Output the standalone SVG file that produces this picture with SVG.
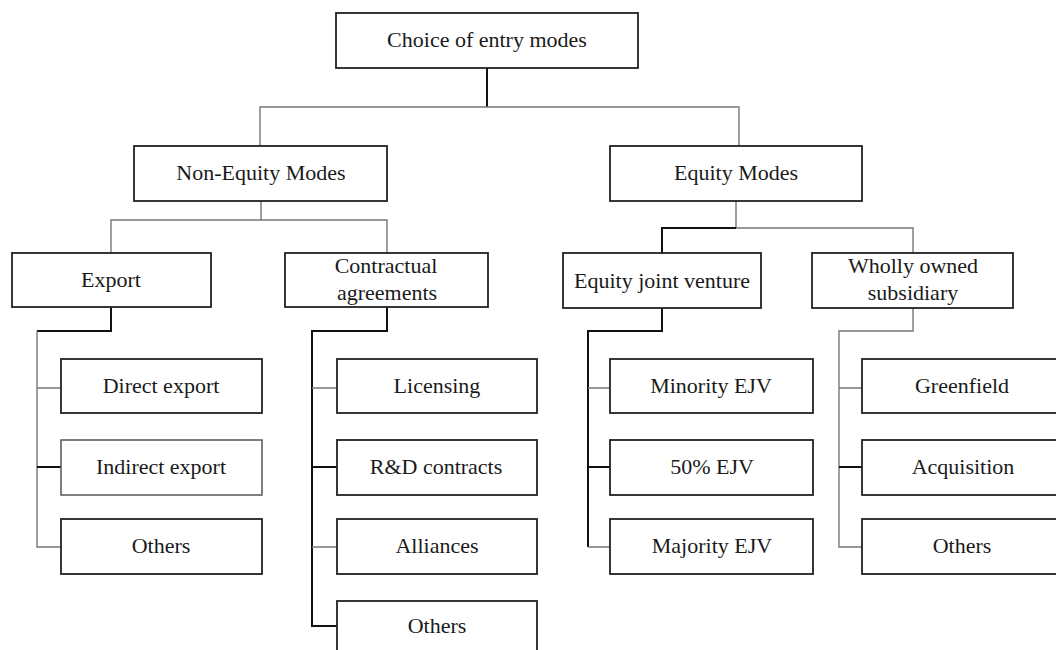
<svg xmlns="http://www.w3.org/2000/svg" width="1056" height="650" viewBox="0 0 1056 650">
<style>
.box{fill:#fff;stroke:#222;stroke-width:1.8}
.boxl{fill:#fff;stroke:#555;stroke-width:1.5}
.t{font-family:"Liberation Serif","Times New Roman",serif;font-size:22px;fill:#1a1a1a;text-anchor:middle}
.cb{fill:none;stroke:#111;stroke-width:2}
.cg{fill:none;stroke:#777;stroke-width:1.4}
</style>
<rect width="1056" height="650" fill="#fff"/>
<g id="connectors">
<path class="cb" d="M487,68 V107"/>
<path class="cg" d="M260,146 V107 H739 V146"/>
<path class="cg" d="M261,201 V220 M111,253 V220 H387 V253"/>
<path class="cg" d="M736,201 V228 H913 V253"/>
<path class="cb" d="M662,253 V228 H736"/>
<path class="cb" d="M111,307 V331 H37"/>
<path class="cg" d="M37,331 V547 H61 M37,388 H61"/>
<path class="cb" d="M37,467 H61"/>
<path class="cb" d="M387,307 V331 H312 V626 H337 M312,467 H337"/>
<path class="cg" d="M312,388 H337 M312,547 H337"/>
<path class="cb" d="M662,308 V331 H588 V547"/>
<path class="cg" d="M588,388 H610 M588,547 H610"/>
<path class="cb" d="M588,467 H610"/>
<path class="cg" d="M913,308 V331 H839 V547 H862 M839,388 H862"/>
<path class="cb" d="M839,467 H862"/>
</g>
<g id="choice"><rect class="box" x="336" y="13" width="302" height="55"/><text class="t" x="487" y="47">Choice of entry modes</text></g>
<g id="non-equity"><rect class="box" x="134" y="146" width="253" height="55"/><text class="t" x="261" y="180">Non-Equity Modes</text></g>
<g id="equity"><rect class="box" x="610" y="146" width="252" height="55"/><text class="t" x="736" y="180">Equity Modes</text></g>
<g id="export"><rect class="box" x="12" y="253" width="199" height="54"/><text class="t" x="111" y="287">Export</text></g>
<g id="contractual"><rect class="box" x="285" y="253" width="203" height="54"/><text class="t" x="386" y="273">Contractual</text><text class="t" x="387" y="300">agreements</text></g>
<g id="ejv"><rect class="box" x="563" y="253" width="198" height="55"/><text class="t" x="662" y="288">Equity joint venture</text></g>
<g id="wholly"><rect class="box" x="812" y="253" width="201" height="55"/><text class="t" x="913" y="273">Wholly owned</text><text class="t" x="913" y="300">subsidiary</text></g>
<g id="direct-export"><rect class="box" x="61" y="359" width="201" height="54"/><text class="t" x="161" y="393">Direct export</text></g>
<g id="indirect-export"><rect class="boxl" x="61" y="440" width="201" height="55"/><text class="t" x="161" y="474">Indirect export</text></g>
<g id="others-export"><rect class="box" x="61" y="519" width="201" height="55"/><text class="t" x="161" y="553">Others</text></g>
<g id="licensing"><rect class="box" x="337" y="359" width="200" height="54"/><text class="t" x="437" y="393">Licensing</text></g>
<g id="rd-contracts"><rect class="box" x="337" y="440" width="200" height="55"/><text class="t" x="436" y="474">R&amp;D contracts</text></g>
<g id="alliances"><rect class="box" x="337" y="519" width="200" height="55"/><text class="t" x="437" y="553">Alliances</text></g>
<g id="others-contractual"><rect class="box" x="337" y="601" width="200" height="56"/><text class="t" x="437" y="633">Others</text></g>
<g id="minority-ejv"><rect class="box" x="610" y="359" width="203" height="54"/><text class="t" x="711" y="393">Minority EJV</text></g>
<g id="ejv-50"><rect class="box" x="610" y="440" width="203" height="55"/><text class="t" x="712" y="474">50% EJV</text></g>
<g id="majority-ejv"><rect class="box" x="610" y="519" width="203" height="55"/><text class="t" x="712" y="553">Majority EJV</text></g>
<g id="greenfield"><rect class="box" x="862" y="359" width="201" height="54"/><text class="t" x="962" y="393">Greenfield</text></g>
<g id="acquisition"><rect class="box" x="862" y="440" width="201" height="55"/><text class="t" x="963" y="474">Acquisition</text></g>
<g id="others-wholly"><rect class="box" x="862" y="519" width="201" height="55"/><text class="t" x="962" y="553">Others</text></g>
</svg>
